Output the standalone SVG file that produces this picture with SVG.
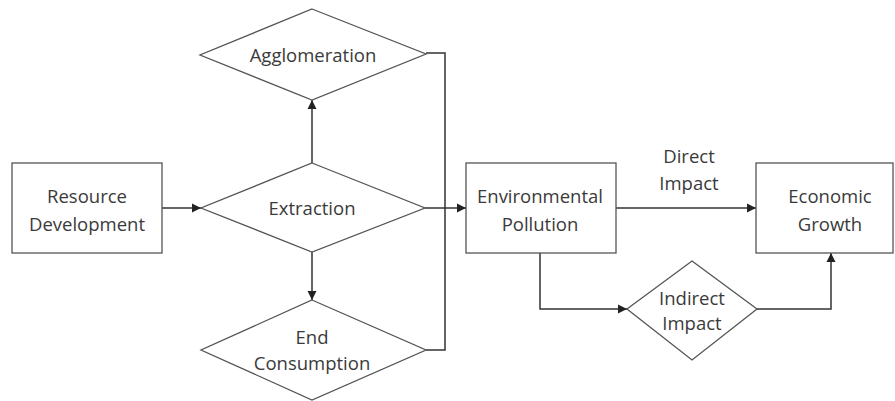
<svg xmlns="http://www.w3.org/2000/svg" width="895" height="401" viewBox="0 0 895 401">
<defs>
<marker id="ah" markerWidth="10" markerHeight="10" refX="9" refY="5" orient="auto" markerUnits="userSpaceOnUse">
<path d="M0,0.5 L9,5 L0,9.5 z" fill="#222"/>
</marker>
<style>
.shape{fill:#fff;stroke:#555;stroke-width:1.3}
.conn{fill:none;stroke:#333;stroke-width:1.5}
text{font-family:"Open Sans","Noto Sans",sans-serif;font-size:18.5px;fill:#3a3a3a;text-anchor:middle}
</style>
</defs>
<rect width="895" height="401" fill="#fff"/>
<g id="connectors">
<path class="conn" d="M162,208 L201,208" marker-end="url(#ah)"/>
<path class="conn" d="M312,163 L312,100" marker-end="url(#ah)"/>
<path class="conn" d="M312,252 L312,300" marker-end="url(#ah)"/>
<path class="conn" d="M426,53 L445,53 L445,350 L426,350"/>
<path class="conn" d="M425,208 L466,208" marker-end="url(#ah)"/>
<path class="conn" d="M616,208 L756,208" marker-end="url(#ah)"/>
<path class="conn" d="M540,253 L540,309 L627,309" marker-end="url(#ah)"/>
<path class="conn" d="M757,309 L831,309 L831,253" marker-end="url(#ah)"/>
<text x="689" y="163">Direct</text>
<text x="689" y="190">Impact</text>
</g>
<g id="resource-development">
<rect class="shape" x="12" y="163" width="150" height="90"/>
<text x="87" y="203">Resource</text>
<text x="87" y="231">Development</text>
</g>
<g id="agglomeration">
<polygon class="shape" points="312,9 426,54 312,100 200,55"/>
<text x="313" y="62">Agglomeration</text>
</g>
<g id="extraction">
<polygon class="shape" points="312,163 425,208 312,252 201,208"/>
<text x="312" y="215">Extraction</text>
</g>
<g id="end-consumption">
<polygon class="shape" points="312,300 426,350 312,400 201,350"/>
<text x="312" y="344">End</text>
<text x="312" y="370">Consumption</text>
</g>
<g id="environmental-pollution">
<rect class="shape" x="466" y="163" width="150" height="90"/>
<text x="540" y="203">Environmental</text>
<text x="540" y="231">Pollution</text>
</g>
<g id="economic-growth">
<rect class="shape" x="756" y="163" width="137" height="90"/>
<text x="830" y="203">Economic</text>
<text x="830" y="231">Growth</text>
</g>
<g id="indirect-impact">
<polygon class="shape" points="692,261 757,309 692,360 627,309"/>
<text x="692" y="305">Indirect</text>
<text x="692" y="330">Impact</text>
</g>
</svg>
